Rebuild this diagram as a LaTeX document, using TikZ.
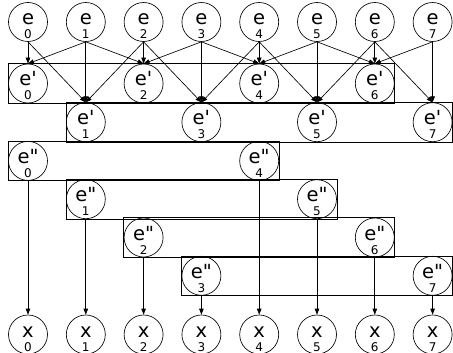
\documentclass[tikz,border=0pt]{standalone}
\usepackage{fontspec}
\setmainfont{DejaVu Sans}[Ligatures=TeXOff]
\usetikzlibrary{arrows.meta, fit}

% letter on top, index underneath, both hung from the node centre
\newcommand{\elbl}[2]{%
  \makebox[0pt]{\raisebox{-2.5pt}[0pt][0pt]{\fontsize{19.5}{19.5}\selectfont #1}}%
  \makebox[0pt]{\raisebox{-16.5pt}[0pt][0pt]{\fontsize{12}{12}\selectfont #2}}}

\begin{document}
\begin{tikzpicture}[>={Triangle[length=6pt, width=4.5pt]}, x=1pt, y=1pt, line width=0.65pt,
  vnode/.style={circle, draw, minimum size=39pt, inner sep=0pt},
  grp/.style={draw, inner sep=0pt}]
  \useasboundingbox (0,0) rectangle (453,-353);

  % inputs
  \foreach \i in {0,...,7}
    \node[vnode] (e\i) at (28+57.8*\i, -22) {\elbl{e}{\i}};

  % first stage, even and odd on separate rows
  \foreach \i in {0,...,7} {
    \pgfmathsetmacro{\ry}{mod(\i,2)==1 ? -122.2 : -83.5}
    \node[vnode] (ep\i) at (28+57.8*\i, \ry) {\elbl{e'}{\i}};
  }

  % second stage, four rows
  \foreach \i in {0,...,7} {
    \pgfmathsetmacro{\ry}{-160.9-38.3*mod(\i,4)}
    \node[vnode] (epp\i) at (28+57.8*\i, \ry) {\elbl{e"}{\i}};
  }

  % outputs
  \foreach \i in {0,...,7}
    \node[vnode] (x\i) at (28+57.8*\i, -334.5) {\elbl{x}{\i}};

  % row boxes
  \node[grp, fit=(ep0)(ep6)] (g1) {};
  \node[grp, fit=(ep1)(ep7)] (g2) {};
  \node[grp, fit=(epp0)(epp4)] (h0) {};
  \node[grp, fit=(epp1)(epp5)] (h1) {};
  \node[grp, fit=(epp2)(epp6)] (h2) {};
  \node[grp, fit=(epp3)(epp7)] (h3) {};

  % each input feeds its own column and both neighbours
  \foreach \i in {0,...,7}
    \foreach \d in {-1,0,1} {
      \pgfmathtruncatemacro{\j}{\i+\d}
      \ifnum\j>-1 \ifnum\j<8
        \draw[->] (e\i.south) -- (ep\j.north);
      \fi\fi
    }

  % straight down to the outputs
  \foreach \i in {0,...,7}
    \draw[->] (epp\i.south) -- (x\i.north);
\end{tikzpicture}
\end{document}
